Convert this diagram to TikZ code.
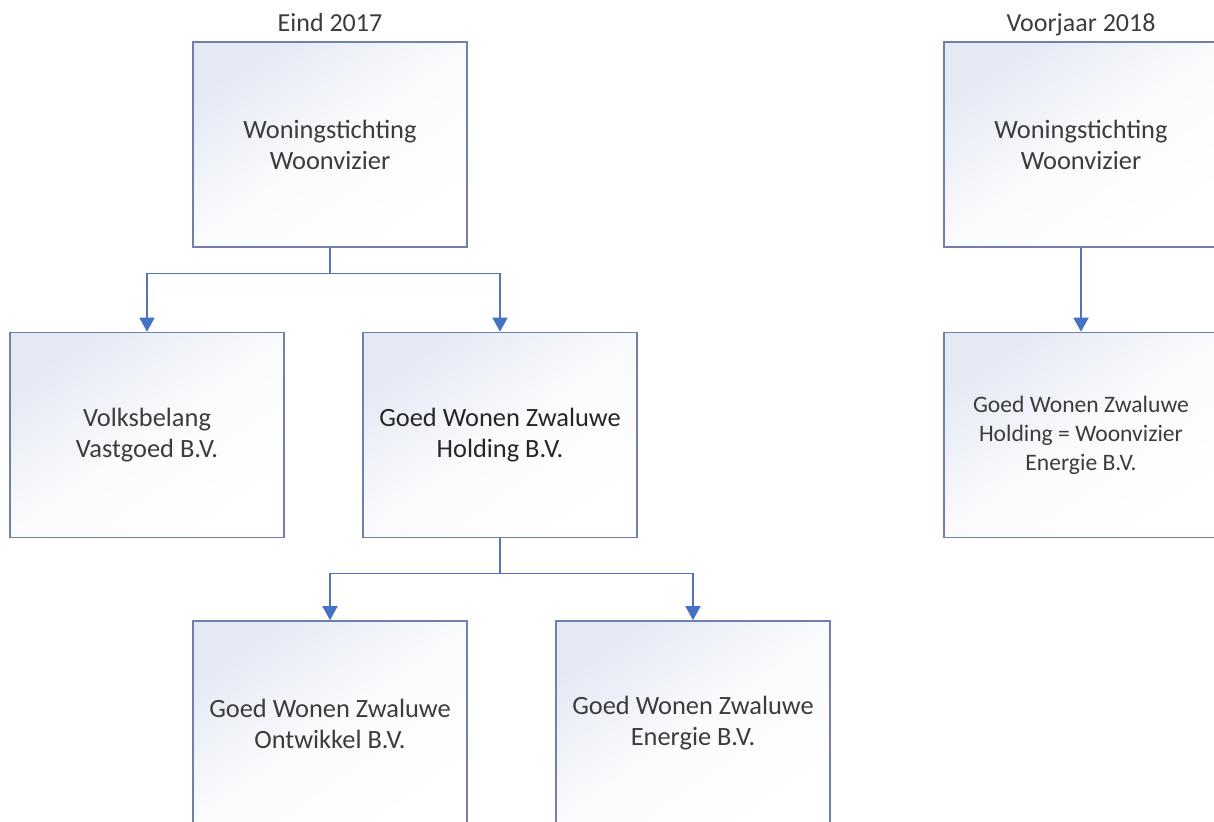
\documentclass[tikz,border=0pt]{standalone}
\usepackage{fontspec}
\setmainfont{Carlito}
\usetikzlibrary{arrows.meta}
\definecolor{boxline}{RGB}{112,128,170}
\definecolor{boxtint}{RGB}{228,233,244}
\definecolor{conn}{RGB}{84,115,186}
\definecolor{arrcol}{RGB}{68,114,196}
\definecolor{txt}{RGB}{60,60,60}
\tikzset{
  orgbox/.style={draw=boxline, line width=1.6pt, rectangle, minimum width=274pt, minimum height=205pt,
    inner sep=0pt, top color=boxtint, bottom color=white, middle color=white!80!boxtint, shading angle=35,
    align=center, text=txt, font=\fontsize{26.4}{31}\selectfont},
  smallbox/.style={orgbox, font=\fontsize{23.6}{29}\selectfont},
  link/.style={draw=conn, line width=1.6pt},
  arr/.style={link, -{Triangle[width=15pt,length=14pt,color=arrcol]}},
  title/.style={text=txt, font=\fontsize{26}{31}\selectfont, anchor=base, inner sep=0pt}
}
\begin{document}
\begin{tikzpicture}[x=1pt,y=-1pt]
\useasboundingbox (0,0) rectangle (1214,821);
\begin{scope}
\clip (0,0) rectangle (1214,821);
\node[title] (t1) at (330,32) {Eind 2017};
\node[title] (t2) at (1081,32) {Voorjaar 2018};
\node[orgbox] (ww) at (330,144.5) {Woningstichting\\Woonvizier};
\node[orgbox] (vv) at (147,435) {Volksbelang\\Vastgoed B.V.};
\node[orgbox, text=black!85] (hd) at (500,435) {Goed Wonen Zwaluwe\\Holding B.V.};
\node[orgbox] (on) at (330,723.5) {Goed Wonen Zwaluwe\\Ontwikkel B.V.};
\node[orgbox] (en) at (693,723.5) {Goed Wonen Zwaluwe\\Energie B.V.};
\node[orgbox] (ww2) at (1081,144.5) {Woningstichting\\Woonvizier};
\node[smallbox] (hd2) at (1081,435) {Goed Wonen Zwaluwe\\Holding = Woonvizier\\Energie B.V.};
\coordinate (j1) at (330,273.5);
\coordinate (j2) at (500,573.5);
\draw[link] (ww.south) -- (j1);
\draw[arr] (j1) -| (vv.north);
\draw[arr] (j1) -| (hd.north);
\draw[link] (hd.south) -- (j2);
\draw[arr] (j2) -| (on.north);
\draw[arr] (j2) -| (en.north);
\draw[arr] (ww2.south) -- (hd2.north);
\end{scope}
\end{tikzpicture}
\end{document}
